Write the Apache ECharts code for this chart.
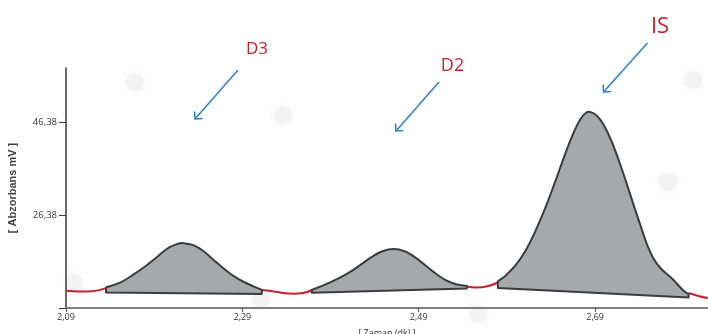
<!DOCTYPE html>
<html>
<head>
<meta charset="utf-8">
<script src="https://cdn.jsdelivr.net/npm/echarts@6/dist/echarts.min.js"></script>
<style>
  html, body { margin: 0; padding: 0; background: #fff; }
  #chart { width: 708px; height: 334px; }
</style>
</head>
<body>
<div id="chart"></div>
<script>
// axis ticks: retention time (dk) and absorbance (mV)
const xTicks = [2.09, 2.29, 2.49, 2.69];
const yTicks = [26.38, 46.38];
const yTickMarks = [6.38, 26.38, 46.38];

// red detector baseline between the peaks (null = hidden under a peak)
const baseX = [2.09, 2.1057, 2.1193, 2.1343, null,
               2.312, 2.3237, 2.3362, 2.3475, 2.3589, 2.3687, null,
               2.5446, 2.5551, 2.5687, 2.5804, null,
               2.796, 2.807, 2.818];
const baseY = [10.10, 9.93, 9.99, 10.60, null,
               10.25, 9.99, 9.61, 9.46, 9.63, 10.21, null,
               11.03, 10.79, 11.11, 11.93, null,
               9.61, 8.98, 8.53];

// peak outlines (upper curve, left to right) + integration baseline [left, right]
const peakNames = ["D3", "D2", "IS"];

const d3X = [2.1354, 2.1513, 2.1663, 2.1816, 2.1929, 2.2042, 2.2156, 2.2231,
             2.2344, 2.2458, 2.2571, 2.2684, 2.2798, 2.2911, 2.3025, 2.3120];
const d3Y = [10.81, 11.85, 13.56, 15.60, 17.30, 19.10, 20.14, 20.36,
             19.92, 18.65, 16.80, 14.95, 13.30, 12.05, 11.05, 10.32];
const d3BaseX = [2.1354, 2.3120];
const d3BaseY = [9.73, 9.39];

const d2X = [2.3687, 2.3838, 2.3989, 2.4141, 2.4255, 2.4368, 2.4481, 2.4613,
             2.4746, 2.4859, 2.4973, 2.5086, 2.5200, 2.5313, 2.5446];
const d2Y = [10.25, 11.40, 12.75, 14.40, 15.90, 17.40, 18.55, 19.07,
             18.55, 17.30, 15.60, 13.90, 12.45, 11.55, 11.11];
const d2BaseX = [2.3687, 2.5446];
const d2BaseY = [9.67, 10.60];

const isX = [2.5797, 2.5880, 2.5994, 2.6107, 2.6220, 2.6334, 2.6447, 2.6561,
             2.6655, 2.6731, 2.6800, 2.6850, 2.6920, 2.6995, 2.7091, 2.7185,
             2.7261, 2.7336, 2.7412, 2.7488, 2.7563, 2.7640, 2.7720, 2.7789,
             2.7903, 2.7960];
const isY = [12.10, 13.30, 15.50, 18.60, 22.85, 27.90, 33.60, 39.60,
             44.10, 47.00, 48.50, 48.60, 47.80, 45.90, 42.10, 37.30,
             33.00, 28.60, 24.30, 20.10, 17.00, 15.00, 13.60, 12.40,
             10.10, 9.39];
const isBaseX = [2.5797, 2.7960];
const isBaseY = [10.68, 8.66];

const RED = "#c8202f";
const BLUE = "#2f7fc6";
const FONT = "'Open Sans', 'DejaVu Sans', sans-serif";
const fmt = v => v.toFixed(2).replace(".", ",");

// smooth outline through the measured points (cubic Hermite, x-monotone),
// closed by the straight integration baseline
function peakSeries(name, xs, ys, bx, by) {
  return {
    type: "custom",
    name,
    z: 4,
    silent: true,
    data: xs.map((x, i) => [x, ys[i]]),
    renderItem(params, api) {
      if (params.dataIndex !== 0) return null;
      const p = xs.map((x, i) => api.coord([x, ys[i]]));
      const n = p.length;
      const m = p.map((_, i) => {
        const a = p[Math.max(i - 1, 0)], c = p[Math.min(i + 1, n - 1)];
        return (c[1] - a[1]) / (c[0] - a[0]);
      });
      const bl = api.coord([bx[0], by[0]]);
      const br = api.coord([bx[1], by[1]]);
      let d = `M${p[0][0]},${p[0][1]}`;
      for (let i = 0; i < n - 1; i++) {
        const h = (p[i + 1][0] - p[i][0]) / 3;
        d += ` C${p[i][0] + h},${p[i][1] + m[i] * h} ${p[i + 1][0] - h},${p[i + 1][1] - m[i + 1] * h} ${p[i + 1][0]},${p[i + 1][1]}`;
      }
      d += ` L${br[0]},${br[1]} L${bl[0]},${bl[1]} Z`;
      return {
        type: "path",
        shape: { pathData: d },
        style: { fill: "#a7a8ab", stroke: "#3c3c3c", lineWidth: 2, lineJoin: "round" }
      };
    }
  };
}

// label text centre + arrow tail -> tip, in pixels
const notes = [
  { text: peakNames[0], x: 257, y: 48, size: 17, from: [238, 70], to: [195, 119] },
  { text: peakNames[1], x: 452.5, y: 65, size: 18, from: [439, 82], to: [396, 131] },
  { text: peakNames[2], x: 660, y: 26, size: 22, from: [647.5, 43], to: [603.5, 92] }
];

function arrowEls(n) {
  const [x1, y1] = n.from, [x2, y2] = n.to;
  const ang = Math.atan2(y1 - y2, x1 - x2);
  const L = 7.5, spread = Math.PI / 4;
  const h1 = [x2 + L * Math.cos(ang - spread), y2 + L * Math.sin(ang - spread)];
  const h2 = [x2 + L * Math.cos(ang + spread), y2 + L * Math.sin(ang + spread)];
  const st = { stroke: BLUE, lineWidth: 1.5, fill: null };
  return [
    { type: "line", z: 10, shape: { x1, y1, x2, y2 }, style: st },
    { type: "polyline", z: 10, shape: { points: [h1, [x2, y2], h2] }, style: st },
    { type: "text", z: 10, x: n.x, y: n.y + 1,
      style: { text: n.text, fill: RED, font: `${n.size}px ${FONT}`, align: "center", verticalAlign: "middle" } }
  ];
}

// faint molecule dots of the backdrop
const dots = [[135, 82], [283, 115], [74, 283], [261, 299], [693, 80], [668, 182], [478, 314]];
const bgEls = dots.map(([cx, cy]) => ({
  type: "circle", z: -5, silent: true,
  shape: { cx, cy, r: 9 },
  style: { fill: "#f3f3f3", shadowBlur: 8, shadowColor: "#f3f3f3" }
}));

const chart = echarts.init(document.getElementById("chart"), null, { renderer: "canvas" });

chart.setOption({
  animation: false,
  backgroundColor: "#ffffff",
  grid: { left: 66, right: 0, top: 68, bottom: 26, outerBoundsMode: "none", containLabel: false },
  xAxis: {
    type: "value",
    min: 2.09,
    max: 2.818,
    name: "[ Zaman (dk) ]",
    nameLocation: "middle",
    nameGap: 21,
    nameTextStyle: { fontFamily: FONT, fontSize: 9, color: "#333" },
    axisLine: { lineStyle: { color: "#808080", width: 2 } },
    axisTick: { show: true, customValues: xTicks, length: 4, lineStyle: { color: "#555", width: 1 } },
    axisLabel: { customValues: xTicks, formatter: fmt, margin: 5, fontFamily: FONT, fontSize: 9, color: "#333" },
    splitLine: { show: false }
  },
  yAxis: {
    type: "value",
    min: 6.38,
    max: 58.1,
    name: "[ Abzorbans mV ]",
    nameLocation: "middle",
    nameRotate: 90,
    nameGap: 48,
    nameTextStyle: { fontFamily: "'Liberation Sans', Arial, sans-serif", fontSize: 11, fontWeight: "bold", color: "#444" },
    axisLine: { show: true, lineStyle: { color: "#3a3a3a", width: 1.5 } },
    axisTick: { show: true, customValues: yTickMarks, length: 7, lineStyle: { color: "#3a3a3a", width: 1 } },
    axisLabel: { customValues: yTicks, formatter: fmt, margin: 9, fontFamily: FONT, fontSize: 9.5, color: "#333" },
    splitLine: { show: false }
  },
  graphic: { elements: [...bgEls, ...notes.flatMap(arrowEls)] },
  series: [
    {
      type: "line",
      name: "baseline",
      z: 3,
      silent: true,
      smooth: true,
      showSymbol: false,
      connectNulls: false,
      data: baseX.map((x, i) => (x === null ? ["-", "-"] : [x, baseY[i]])),
      lineStyle: { color: RED, width: 2 }
    },
    peakSeries("D3", d3X, d3Y, d3BaseX, d3BaseY),
    peakSeries("D2", d2X, d2Y, d2BaseX, d2BaseY),
    peakSeries("IS", isX, isY, isBaseX, isBaseY)
  ]
});
</script>
</body>
</html>
